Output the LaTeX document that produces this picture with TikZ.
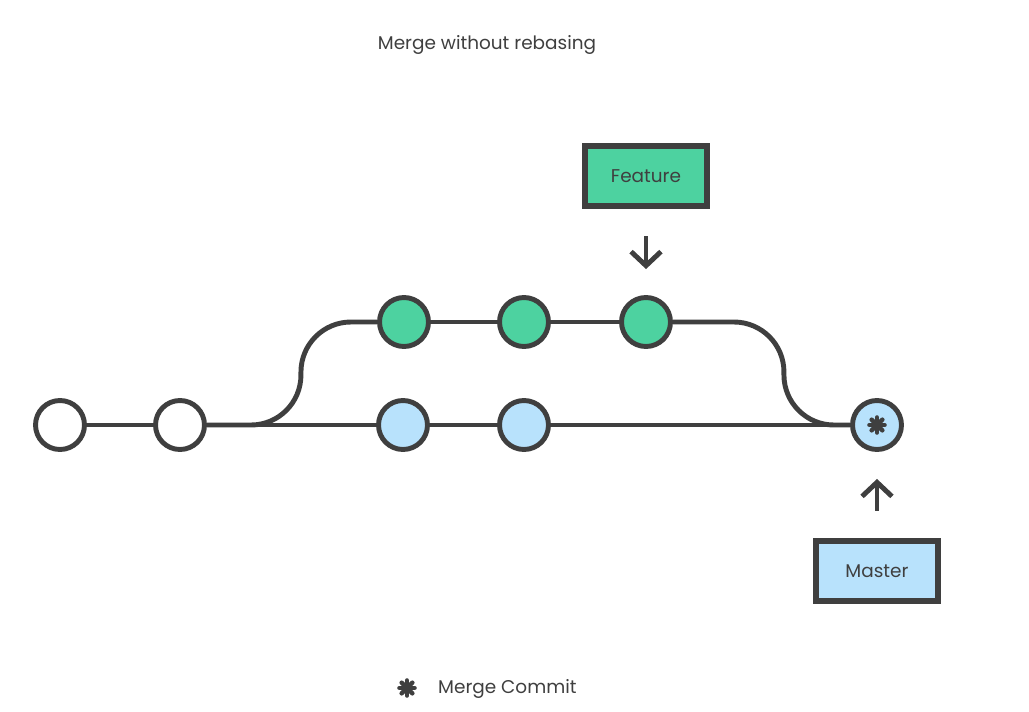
\documentclass[tikz,border=0pt]{standalone}
\usepackage{fontspec}
\setmainfont{Poppins}
\usepackage{xcolor}
\usetikzlibrary{
    arrows.meta,
    backgrounds,
    positioning
}
\definecolor{inkgray}{HTML}{3F3F3F}
\definecolor{featuregreen}{HTML}{4DD2A0}
\definecolor{masterblue}{HTML}{B8E2FC}

\tikzset{
    commit/.style={circle, draw=inkgray, line width=2.8pt, minimum size=0.98cm, inner sep=0pt},
    branchbox/.style={rectangle, draw=inkgray, line width=3pt, minimum width=2.44cm, minimum height=1.2cm, font=\fontsize{10.5}{12}\selectfont, text=inkgray},
    caption/.style={text=inkgray, font=\fontsize{10.5}{12}\selectfont},
    history/.style={draw=inkgray, line width=2.8pt},
    pointer/.style={draw=inkgray, line width=2.8pt, -{Straight Barb[length=8pt, width=17pt, line width=2.8pt]}},
    mergemark/.pic={
        \foreach \a in {0, 45, 90, 135}
            \draw[inkgray, line width=2.6pt, line cap=round] (\a:7.5) -- (\a+180:7.5);
        \fill[inkgray] (0, 0) circle (4.5);
    }
}

\begin{document}
\begin{tikzpicture}[x=0.02cm, y=-0.02cm]
    \useasboundingbox (0, 0) rectangle (1029, 711);

    \node[caption] (title) at (487, 45) {Merge without rebasing};

    \node[commit, fill=white] (c1) at (60, 425) {};
    \node[commit, fill=white] (c2) at (180, 425) {};
    \node[commit, fill=masterblue] (m1) at (403, 425) {};
    \node[commit, fill=masterblue] (m2) at (524, 425) {};
    \node[commit, fill=masterblue] (merge) at (877, 425) {};

    \node[commit, fill=featuregreen] (f1) at (404, 322) {};
    \node[commit, fill=featuregreen] (f2) at (524, 322) {};
    \node[commit, fill=featuregreen] (f3) at (646, 322) {};

    % history lines go under the commits
    \begin{scope}[on background layer]
        \draw[history] (c1) -- (c2);
        \draw[history] (c2) -- (m1);
        \draw[history] (m1) -- (m2);
        \draw[history] (m2) -- (merge);
        \draw[history] (f1) -- (f2);
        \draw[history] (f2) -- (f3);
        \draw[history, rounded corners=1cm] (c2.east) -- ++(94, 0) |- (f1.west);
        \draw[history, rounded corners=1cm] (f3.east) -- ++(111, 0) |- (merge.west);
    \end{scope}

    \pic at (merge) {mergemark};

    \node[branchbox, fill=featuregreen] (feature) at (646, 176) {Feature};
    \node[branchbox, fill=masterblue] (master) at (877, 571) {Master};

    \draw[pointer] ([yshift=-0.55cm]feature.south) -- ([yshift=0.52cm]f3.north);
    \draw[pointer] ([yshift=0.55cm]master.north) -- ([yshift=-0.54cm]merge.south);

    \pic at (407, 688) {mergemark};
    \node[caption, anchor=west] (legend) at (432, 689) {Merge Commit};
\end{tikzpicture}
\end{document}
